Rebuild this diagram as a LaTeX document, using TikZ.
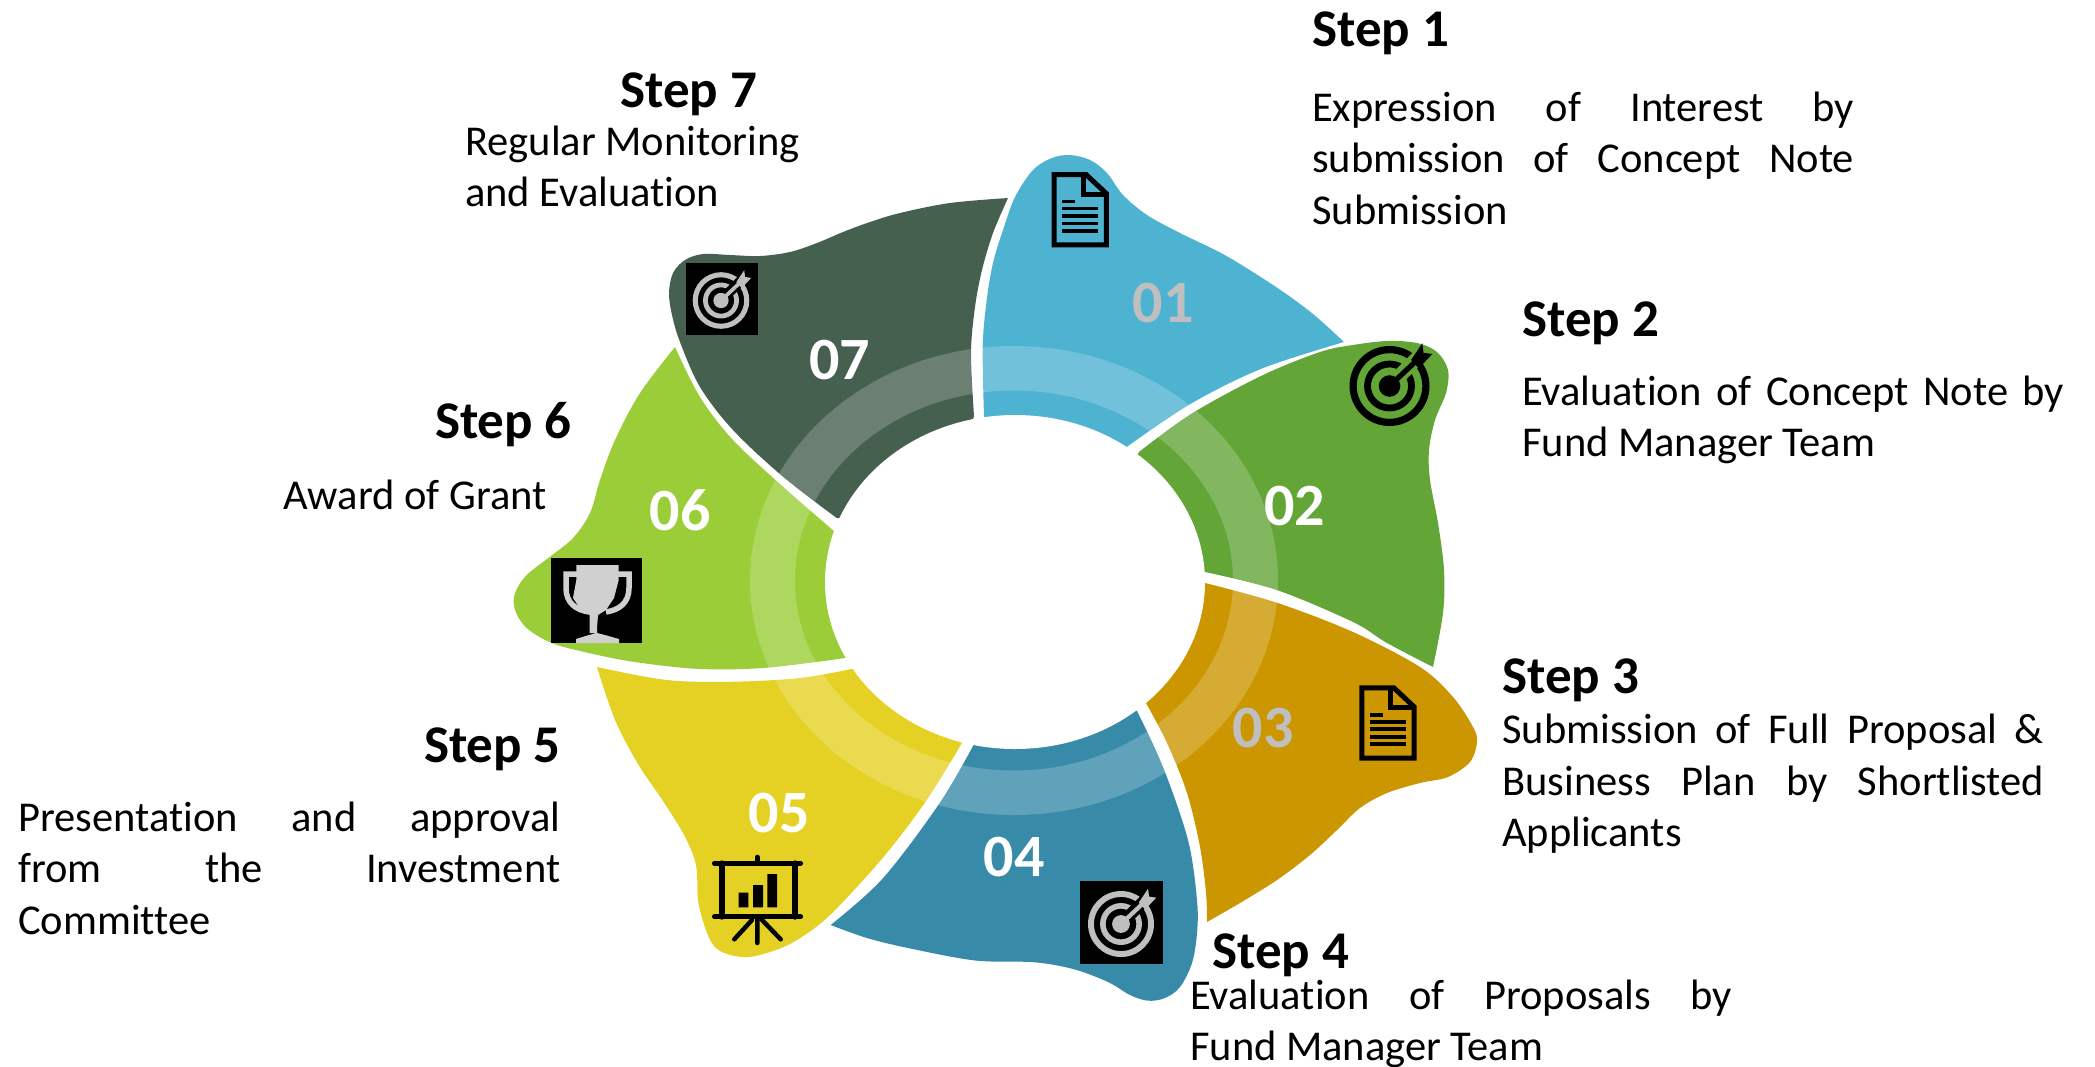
\documentclass[tikz,border=0pt]{standalone}
\usepackage{fontspec}
\setmainfont[Ligatures=NoCommon]{Carlito}
\definecolor{cblue}{HTML}{4EB2D1}
\definecolor{cgreen}{HTML}{63A537}
\definecolor{cgold}{HTML}{CC9600}
\definecolor{cteal}{HTML}{388BA8}
\definecolor{cyel}{HTML}{E5D123}
\definecolor{clime}{HTML}{9ACD37}
\definecolor{cdark}{HTML}{466050}
\definecolor{cnum}{HTML}{BFBFBF}
\definecolor{ctro}{HTML}{D0D0D0}
\newcommand\jline[1]{\makebox[542pt][s]{#1}}
\newcommand\firstl{\rule{0pt}{30pt}}
\newcommand\docicon[2]{%
\begin{scope}[shift={(#1,#2)}]
\draw[black,line width=5pt,miter limit=10] (2.5,2.5)--(34.5,2.5)--(54.8,21.5)--(54.8,72.8)--(2.5,72.8)--cycle;
\draw[black,line width=5pt] (31.5,2.5)--(31.5,22.5)--(54,22.5);
\draw[black,line width=3.8pt] (10.7,29.5)--(23.3,29.5) (10.7,36.5)--(46.7,36.5) (10.7,44)--(46.7,44) (10.7,51.5)--(46.7,51.5) (10.7,59)--(46.7,59);
\end{scope}}
\newcommand\targeticon[5]{% cx cy R fg bg
\begin{scope}[shift={(#1,#2)},x=#3pt,y=#3pt]
\draw[#4,line width=.18*#3pt] (0,0) circle[radius=.91];
\draw[#4,line width=.17*#3pt] (0,0) circle[radius=.55];
\fill[#4] (0,0) circle[radius=.27];
\draw[#5,line width=.36*#3pt] (.3,.3)--(.8,.8);
\draw[#4,line width=.13*#3pt] (0,0)--(.66,.62);
\fill[#4] (.54,.65)--(.82,1.07)--(.85,.83)--(1.07,.8)--(.73,.44)--cycle;
\end{scope}}
\tikzset{
 num/.style={font=\bfseries\fontsize{60}{60}\selectfont,inner sep=0pt,text=white},
 head/.style={font=\bfseries\fontsize{53}{60}\selectfont,inner sep=0pt,text=black},
 body/.style={font=\fontsize{42.5}{51.6}\selectfont,inner sep=0pt,align=left,anchor=north west,text=black},
 seg/.style={tension=.55}
}
\begin{document}
\begin{tikzpicture}[x=1pt,y=-1pt]
\useasboundingbox (0,0) rectangle (2095,1066);
% segments
\fill[cdark] plot[smooth,seg] coordinates {(1008,198)(950,203)(900,213)(870,222)(843,232)(817,243)(790,252)(760,256)(730,255)(703,254)(685,260)(673,273)(669,293)(672,315)(680,342)(700,387)(733,430)(783,476.7)(836.7,518)} -- (900,520) -- (960,460) -- plot[smooth,seg] coordinates {(974,416)(971,353)(975,307)(982,270)(993,233)(1008,198)} -- cycle;
\fill[cblue] plot[smooth,seg] coordinates {(984,416)(982.7,346.7)(986.7,300)(993,263)(1003,230)(1015,197)(1033,170)(1052,158)(1070,155)(1090,160)(1107,173)(1123,195)(1147,215)(1180,233)(1226.5,256)(1277.5,288)(1313,314)(1344,342)} -- plot[smooth,seg] coordinates {(1344,342)(1262,368.5)(1191,403.6)(1126,447.4)} -- (1100,490) -- (1010,480) -- cycle;
\fill[cgreen] plot[smooth,seg] coordinates {(1139,452)(1191,414)(1262,375.5)(1320,352)(1353,345)(1387,341)(1417,343)(1437,352)(1448,370)(1446,393)(1435,420)(1429,450)(1430,480)(1438,523)(1444,570)(1443,613)(1433,667)} -- plot[smooth,seg] coordinates {(1433,667)(1387,643)(1353,622)(1276.7,590)(1205,572)} -- (1150,565) -- (1100,520) -- cycle;
\fill[cgold] plot[smooth,seg] coordinates {(1204,582.7)(1276.7,602.7)(1353,632)(1420,667)(1453,697)(1473,727)(1477,742)(1470,762)(1448,777)(1420,783)(1387,793)(1360,808)(1337,830)(1310,855)(1277,880)(1240,903)(1207,922)} -- plot[smooth,seg] coordinates {(1207,922)(1206,893)(1200,847)(1187,793)(1167,743)(1146,703)} -- (1100,650) -- (1150,575) -- cycle;
\fill[cteal] plot[smooth,seg] coordinates {(1137,711)(1163,767)(1188,840)(1197,900)(1197,933)(1192,963)(1180,987)(1165,998)(1148,1000.7)(1130,995)(1110,983)(1083,972)(1060,966)(1030.6,962)(974.5,960.4)(908,948)(867,938)(830.6,925)} -- plot[smooth,seg] coordinates {(830.6,925)(882.6,878.6)(939,804)(973,746)} -- (1015,700) -- (1090,670) -- cycle;
\fill[cyel] plot[smooth,seg] coordinates {(961.7,743.4)(926,801)(882.6,858)(830,915)(797,940)(770,952)(742,957)(714,946)(699,906)(696,865)(684,835)(663,801)(638,764)(615,720)(597,667)} -- plot[smooth,seg] coordinates {(597,667)(666.7,680)(733,681.7)(800,678)(851.7,669)} -- (900,640) -- (940,690) -- cycle;
\fill[clime] plot[smooth,seg] coordinates {(675,347)(700,397)(733,440)(783,486.7)(832.7,530)} -- (870,560) -- (880,640) -- plot[smooth,seg] coordinates {(845,658)(766.7,667.7)(700,669)(633,661.7)(583,651.7)(551,642.7)(526.7,628)(515,610)(515,593)(526.7,575)(550,556.7)(573,538)(590,513)(600,480)(615,440)(640,393)(675,347)} -- cycle;
% ring and hole
\fill[white,opacity=.2,even odd rule] (1014,580.5) ellipse[x radius=264,y radius=234.5] (1014,580.5) ellipse[x radius=219,y radius=190];
\fill[white] (1015,582) ellipse[x radius=190,y radius=167];
% numbers
\node[num,text=cnum] (n1) at (1163,303) {01};
\node[num] (n2) at (1294.5,506) {02};
\node[num,text=cnum] (n3) at (1263,728) {03};
\node[num] (n4) at (1014,857) {04};
\node[num] (n5) at (779,813) {05};
\node[num] (n6) at (680,510) {06};
\node[num] (n7) at (839.5,360) {07};
% icons
\docicon{1051.5}{172}
\docicon{1359.3}{685.3}
\targeticon{1389.5}{386}{40}{black}{cgreen}
\fill[black] (686,263) rectangle (758,335);
\targeticon{721}{300.5}{28.3}{cnum}{black}
\fill[black] (1080,881) rectangle (1163,964);
\targeticon{1121}{924}{33}{cnum}{black}
% trophy
\fill[black] (551,558) rectangle (642,643);
\begin{scope}[shift={(551,558)}]
\fill[ctro] (25.3,7)--(67.7,7)--(67.7,22)--(63,40)--(55,52)--(47,57)--(46,70)--(46,75)--(54,77)--(68,81)--(68,85)--(25,85)--(25,81)--(38,77)--(46,75)--(38.5,75)--(38.5,57)--(30,52)--(22,40)--(25.3,22)--cycle;
\draw[ctro,line width=5.5pt] (26,16)--(15,16)--(15,30) .. controls (15,45) and (25,52) .. (38,54);
\draw[ctro,line width=5.5pt] (67,16)--(78,16)--(78,30) .. controls (78,45) and (68,52) .. (55,54);
\end{scope}
% presentation
\begin{scope}[line cap=round]
\draw[black,line width=4.7pt] (714.3,863.3)--(800.7,863.3) (714.3,916.7)--(800.7,916.7) (757.3,857)--(757.3,863);
\draw[black,line width=6pt] (721.5,863.3)--(721.5,916.7) (795,863.3)--(795,916.7);
\draw[black,line width=4.5pt] (757.3,918)--(757.3,943) (752,920)--(734.3,939.3) (762,920)--(780.7,939.3);
\end{scope}
\fill[black] (738.7,892.7) rectangle (748.3,907.3) (753,885) rectangle (763,907.3) (767.3,874) rectangle (777,907.3);
% texts
\node[head,anchor=base west] (s1) at (1312,46) {Step 1};
\node[body] (t1) at (1312,91) {\firstl\jline{Expression of Interest by}\\\jline{submission of Concept Note}\\Submission};
\node[head,anchor=base west] (s2) at (1522,336.5) {Step 2};
\node[body] (t2) at (1522,375) {\firstl\jline{Evaluation of Concept Note by}\\Fund Manager Team};
\node[head,anchor=base west] (s3) at (1502,693.5) {Step 3};
\node[body] (t3) at (1502,713.5) {\firstl\jline{Submission of Full Proposal \&}\\\jline{Business Plan by Shortlisted}\\Applicants};
\node[head,anchor=base west] (s4) at (1212,968) {Step 4};
\node[body] (t4) at (1190,979) {\firstl\jline{Evaluation of Proposals by}\\Fund Manager Team};
\node[head,anchor=base east] (s5) at (561,762.5) {Step 5};
\node[body] (t5) at (18,801) {\firstl\jline{Presentation and approval}\\\jline{from the Investment}\\Committee};
\node[head,anchor=base east] (s6) at (572,438.5) {Step 6};
\node[body] (t6) at (283,479) {\firstl Award of Grant};
\node[head,anchor=base west] (s7) at (620,107.5) {Step 7};
\node[body] (t7) at (465,125) {\firstl Regular Monitoring\\and Evaluation};
\end{tikzpicture}
\end{document}
